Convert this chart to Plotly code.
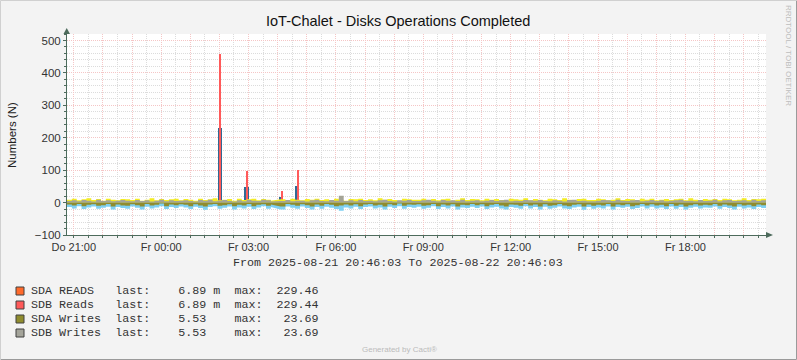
import plotly.graph_objects as go
import pandas as pd

# ---------------- data ----------------
start = pd.Timestamp("2025-08-21 20:46:03")
end = pd.Timestamp("2025-08-22 20:46:03")
times = pd.date_range(start, periods=144, freq="10min")

yellow_vals = [
    9, 12, 7, 10, 13, 8, 11, 6, 12, 9, 7, 11,
    10, 8, 12, 6, 9, 13, 7, 11, 8, 10, 12, 7,
    11, 9, 6, 12, 8, 10, 13, 7, 9, 11, 6, 12,
    8, 10, 12, 7, 11, 9, 6, None, 10, 8, 12, 9,
    7, 11, 9, 12, 8, 10, 7, 12, 9, 6, 11, 10,
    12, 8, 10, 7, 13, 9, 11, 8, 6, 12, 10, 9,
    9, 12, 8, 11, 7, 10, 12, 6, 9, 13, 8, 11,
    10, 7, 12, 9, 11, 8, 6, 12, 10, 9, 13, 7,
    11, 9, 7, 12, 10, 8, 13, 9, 6, 11, 12, 8,
    8, 12, 10, 7, 9, 13, 8, 11, 10, 6, 12, 9,
    12, 7, 9, 11, 8, 10, 12, 7, 13, 9, 8, 11,
    9, 11, 8, 12, 10, 7, 9, 13, 8, 11, 10, 12,
]
grey_vals = [
    5, 7, 4, 8, 6, 3, 9, 5, 7, 4, 6, 8,
    6, 4, 8, 5, 7, 3, 6, 9, 4, 7, 5, 6,
    7, 5, 3, 8, 6, 9, 4, 6, 8, 5, 3, 7,
    4, 8, 6, 5, 9, 7, 3, None, 5, 8, 4, 6,
    6, 3, 7, 9, 5, 4, 8, 6, 21, 5, 7, 4,
    8, 5, 6, 4, 7, 9, 5, 3, 7, 6, 8, 5,
    5, 7, 9, 6, 4, 8, 6, 7, 5, 9, 4, 6,
    7, 4, 6, 8, 5, 7, 9, 4, 6, 5, 8, 7,
    6, 8, 5, 4, 7, 6, 3, 8, 9, 5, 6, 4,
    4, 6, 8, 7, 5, 9, 6, 5, 7, 8, 4, 6,
    8, 5, 7, 4, 6, 7, 9, 5, 6, 4, 8, 5,
    6, 9, 4, 7, 8, 5, 6, 7, 4, 9, 5, 7,
]
lightblue_vals = [
    -14, -18, -11, -20, -15, -12, -19, -16, -13, -21, -14, -17,
    -19, -12, -16, -21, -13, -18, -15, -11, -20, -14, -17, -12,
    -15, -20, -13, -17, -22, -14, -11, -19, -16, -12, -21, -15,
    -18, -13, -20, -15, -11, -19, -14, None, -21, -12, -16, -19,
    -12, -17, -21, -14, -19, -13, -16, -20, -25, -15, -18, -13,
    -20, -14, -12, -18, -15, -21, -13, -17, -11, -19, -14, -16,
    -13, -19, -16, -11, -20, -14, -18, -12, -21, -15, -17, -13,
    -17, -12, -20, -15, -13, -18, -21, -14, -16, -19, -11, -18,
    -14, -21, -13, -19, -16, -12, -18, -20, -15, -13, -22, -14,
    -19, -15, -18, -12, -21, -14, -16, -13, -20, -17, -12, -18,
    -13, -18, -15, -20, -12, -19, -14, -21, -16, -13, -18, -15,
    -16, -12, -19, -14, -17, -21, -13, -18, -15, -20, -14, -17,
]
olive_vals = [
    -6, -9, -4, -11, -7, -5, -10, -8, -4, -12, -6, -9,
    -10, -5, -8, -12, -4, -9, -7, -3, -11, -6, -8, -5,
    -7, -11, -5, -9, -12, -6, -4, -10, -8, -5, -11, -7,
    -9, -4, -11, -7, -5, -10, -6, None, -12, -4, -7, -10,
    -5, -8, -12, -6, -10, -4, -7, -11, -9, -6, -9, -5,
    -11, -6, -4, -9, -7, -12, -5, -8, -3, -10, -6, -7,
    -5, -10, -8, -4, -11, -6, -9, -5, -12, -7, -8, -4,
    -8, -5, -11, -7, -4, -9, -12, -6, -7, -10, -4, -9,
    -6, -12, -5, -10, -8, -4, -9, -11, -7, -5, -12, -6,
    -10, -7, -9, -4, -12, -6, -8, -5, -11, -8, -4, -9,
    -5, -9, -7, -11, -4, -10, -6, -12, -8, -5, -9, -7,
    -8, -4, -10, -6, -9, -12, -5, -9, -7, -11, -6, -8,
]

spike_times = ["2025-08-22 02:01", "2025-08-22 02:56", "2025-08-22 04:07", "2025-08-22 04:40"]
sda_reads_spike = [229.46, 47, 18, 50]
red_times = ["2025-08-22 02:01", "2025-08-22 02:58", "2025-08-22 04:09", "2025-08-22 04:42"]
reads_total_spike = [458.9, 97, 35, 99]

legend_names = ["SDA READS", "SDB Reads", "SDA Writes", "SDB Writes"]
legend_last = ["6.89 m", "6.89 m", "5.53", "5.53"]
legend_max = ["229.46", "229.44", "23.69", "23.69"]
legend_colors = ["#FF6A2B", "#FF5A5A", "#8F8C2E", "#A4A49A"]

tick_labels = ["Do 21:00", "Fr 00:00", "Fr 03:00", "Fr 06:00", "Fr 09:00",
               "Fr 12:00", "Fr 15:00", "Fr 18:00"]

# ---------------- geometry helpers ----------------
W, H = 797, 360
L, R, T, B = 67, 766, 34, 235


def px(x):
    return (x - L) / (R - L)


def py(y):
    return (B - y) / (B - T)


xs = list(times) + [end]

fig = go.Figure()


def add_area(vals, color):
    fig.add_trace(go.Scatter(
        x=xs, y=vals + [vals[-1]], mode="lines", line=dict(width=0, shape="hv"),
        fill="tozeroy", fillcolor=color, connectgaps=False, hoverinfo="skip",
        showlegend=False))


add_area(lightblue_vals, "#7FD0F2")
add_area(yellow_vals, "#F4EC22")
add_area(olive_vals, "#8F8C2E")
add_area(grey_vals, "#A4A496")

fig.add_trace(go.Bar(x=pd.to_datetime(spike_times), y=sda_reads_spike, width=9 * 60 * 1000,
                     marker=dict(color="#316A94", line=dict(width=0)), showlegend=False))
fig.add_trace(go.Bar(x=pd.to_datetime(red_times), y=reads_total_spike, width=3 * 60 * 1000,
                     marker=dict(color="#FF5A5A", line=dict(width=0)), showlegend=False))

hour_ticks = list(pd.date_range("2025-08-21 21:00", "2025-08-22 20:00", freq="1h"))
hour_text = [tick_labels[i // 3] if i % 3 == 0 else "" for i in range(len(hour_ticks))]

axis_col = "#4D6B5C"
major_grid = "#F5C6C6"
minor_grid = "#DCDCDC"

fig.update_layout(
    width=W, height=H,
    margin=dict(l=L, r=W - R, t=T, b=H - B, pad=0),
    paper_bgcolor="#F3F3F3", plot_bgcolor="#FFFFFF",
    barmode="overlay", bargap=0,
    font=dict(family="Liberation Sans, Arial, sans-serif", size=11, color="#333333"),
    showlegend=False,
    xaxis=dict(
        type="date", range=[start, end],
        tickvals=hour_ticks, ticktext=hour_text,
        showgrid=True, gridcolor=major_grid, griddash="1px,1px", gridwidth=1,
        ticks="outside", ticklen=2, tickcolor=axis_col,
        showline=True, linecolor=axis_col, linewidth=1,
        minor=dict(dtick=30 * 60 * 1000, tick0="2025-08-21 20:30", showgrid=True,
                   gridcolor=minor_grid, griddash="1px,1px", ticks="outside", ticklen=2,
                   tickcolor=axis_col),
        zeroline=False, fixedrange=True,
        tickfont=dict(size=11, color="#333333"),
    ),
    yaxis=dict(
        range=[-100, 520], tickvals=[-100, 0, 100, 200, 300, 400, 500],
        showgrid=True, gridcolor=major_grid, griddash="1px,1px", gridwidth=1,
        ticks="outside", ticklen=3, tickcolor=axis_col,
        showline=True, linecolor=axis_col, linewidth=1,
        minor=dict(dtick=20, showgrid=True, gridcolor=minor_grid, griddash="1px,1px",
                   ticks="outside", ticklen=2, tickcolor=axis_col),
        zeroline=True, zerolinecolor="#8A8A7E", zerolinewidth=1,
        fixedrange=True, tickfont=dict(size=11.5, color="#333333"),
    ),
)

shapes = []
# axis arrows
shapes.append(dict(type="path", xref="paper", yref="paper",
                   path=f"M {px(63.5)},{py(34)} L {px(70)},{py(34)} L {px(66.7)},{py(28)} Z",
                   fillcolor=axis_col, line=dict(width=0)))
shapes.append(dict(type="path", xref="paper", yref="paper",
                   path=f"M {px(766)},{py(232)} L {px(766)},{py(238)} L {px(773)},{py(235)} Z",
                   fillcolor=axis_col, line=dict(width=0)))
# image border
shapes.append(dict(type="line", xref="paper", yref="paper", x0=px(0.5), x1=px(796.5),
                   y0=py(359.5), y1=py(359.5), line=dict(color="#9A9A9A", width=1)))
shapes.append(dict(type="line", xref="paper", yref="paper", x0=px(796.5), x1=px(796.5),
                   y0=py(0.5), y1=py(359.5), line=dict(color="#9A9A9A", width=1)))
shapes.append(dict(type="line", xref="paper", yref="paper", x0=px(0.5), x1=px(796.5),
                   y0=py(0.5), y1=py(0.5), line=dict(color="#D0D0D0", width=1)))
shapes.append(dict(type="line", xref="paper", yref="paper", x0=px(0.5), x1=px(0.5),
                   y0=py(0.5), y1=py(359.5), line=dict(color="#D0D0D0", width=1)))

annotations = []
mono = "Liberation Mono, Courier New, monospace"
row_y = [291, 305, 319, 333]
for i in range(4):
    shapes.append(dict(type="rect", xref="paper", yref="paper",
                       x0=px(16), x1=px(24), y0=py(row_y[i] + 4), y1=py(row_y[i] - 4),
                       fillcolor=legend_colors[i], line=dict(color="#404040", width=1)))
    line = f"{legend_names[i]:<12}last:    {legend_last[i]:<8}max:  {legend_max[i]:>6}"
    annotations.append(dict(xref="paper", yref="paper", x=px(29), y=py(row_y[i]),
                            xanchor="left", yanchor="middle", showarrow=False,
                            text=line.replace(" ", "&nbsp;"),
                            font=dict(family=mono, size=11.7, color="#333333")))

annotations.append(dict(xref="paper", yref="paper", x=px(398), y=py(21),
                        xanchor="center", yanchor="middle", showarrow=False,
                        text="IoT-Chalet - Disks Operations Completed",
                        font=dict(size=14.5, color="#111111")))
annotations.append(dict(xref="paper", yref="paper", x=px(12), y=py(135),
                        xanchor="center", yanchor="middle", showarrow=False, textangle=-90,
                        text="Numbers (N)", font=dict(size=11.5, color="#222222")))
annotations.append(dict(xref="paper", yref="paper", x=px(398), y=py(263),
                        xanchor="center", yanchor="middle", showarrow=False,
                        text="From 2025-08-21 20:46:03 To 2025-08-22 20:46:03".replace(" ", "&nbsp;"),
                        font=dict(family=mono, size=11.7, color="#333333")))
annotations.append(dict(xref="paper", yref="paper", x=px(399), y=py(349),
                        xanchor="center", yanchor="middle", showarrow=False,
                        text="Generated by Cacti®", font=dict(size=8, color="#BBBBBB")))
annotations.append(dict(xref="paper", yref="paper", x=px(788), y=py(56),
                        xanchor="center", yanchor="middle", showarrow=False, textangle=90,
                        text="RRDTOOL / TOBI OETIKER", font=dict(size=8, color="#BDBDBD")))

fig.update_layout(shapes=shapes, annotations=annotations)
fig.write_html("out.html", config={"displayModeBar": False},
               post_script="document.body.style.margin='0px';")
